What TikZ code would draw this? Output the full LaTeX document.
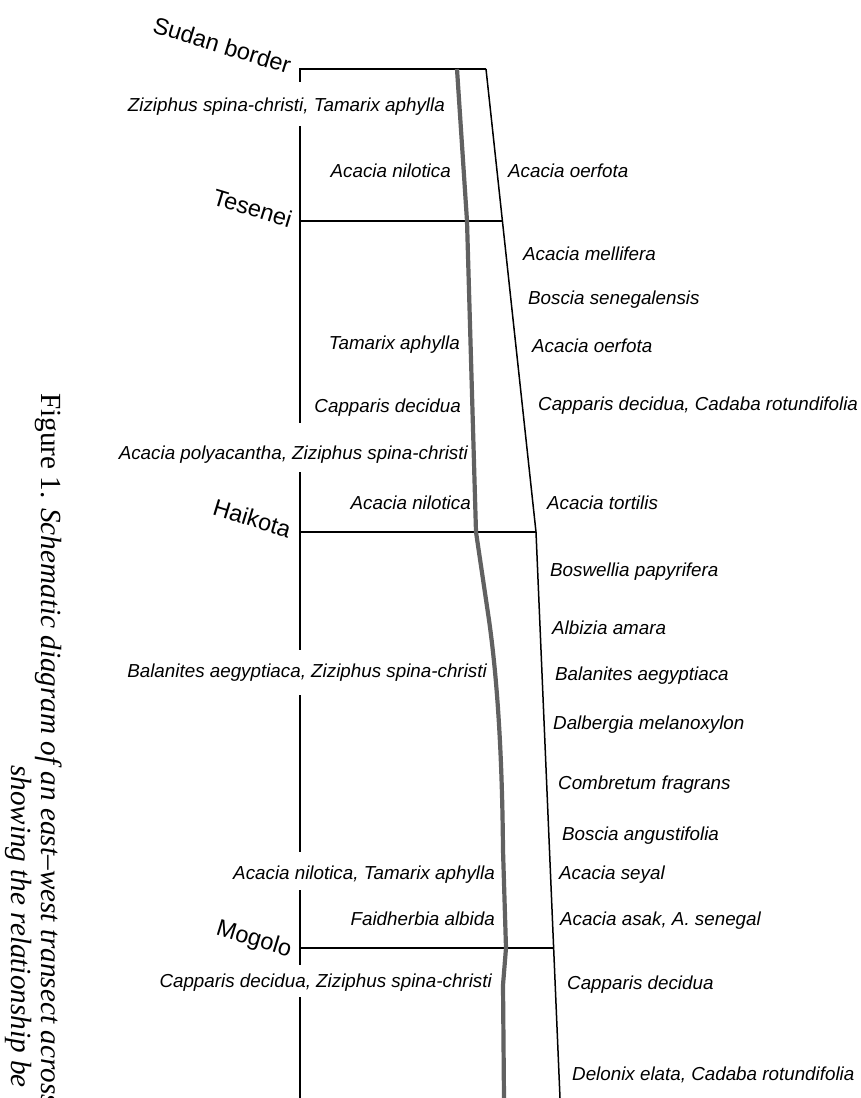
\documentclass[tikz,border=0pt]{standalone}
\usepackage{fontspec}
\setmainfont{Liberation Serif}
\setsansfont{Liberation Sans}
\usepackage{tikz}
\usetikzlibrary{calc}

\begin{document}
\begin{tikzpicture}[x=1pt, y=-1pt,
        species/.style={font=\sffamily\itshape\fontsize{18.8}{18.8}\selectfont, inner sep=0pt},
        west/.style={species, anchor=base east},
        east/.style={species, anchor=base west},
        place/.style={font=\sffamily\fontsize{23.5}{23.5}\selectfont, inner sep=0pt, rotate=-17, anchor=base east},
        caption/.style={font=\fontsize{29.2}{29.2}\selectfont, inner sep=0pt, rotate=-90, anchor=base west},
        border/.style={line width=1.5pt},
        track/.style={line width=4.2pt, color=black!62}]
    \useasboundingbox (0,0) rectangle (860,1098);
    \clip (0,0) rectangle (860,1098);
        \coordinate (nw) at (300,69);
        \coordinate (ne) at (486,69);
        \coordinate (bend) at (536,532);
        \coordinate (se) at (560,1098);
        \draw[border] (ne) -- (nw) -- (300,82);
        \draw[border] (300,126) -- (300,423);
        \draw[border] (300,472) -- (300,650);
        \draw[border] (300,695) -- (300,852);
        \draw[border] (300,890) -- (300,965);
        \draw[border] (300,997) -- (300,1098);
        \draw[border] (ne) -- (bend) -- (se);
        \draw[border] (300,221) -- (502.4,221);
        \draw[border] (300,532) -- (bend);
        \draw[border] (300,948) -- (553.6,948);
        \draw[track] (457,69) -- (467,221) -- (476,532) -- (489,620)
            .. controls (496,670) and (502,740) .. (503,850) -- (506,948) -- (503,985) -- (504,1098);
        \node[place] (sudan) at (288,74) {Sudan border};
        \node[place] (tesenei) at (289,228) {Tesenei};
        \node[place] (haikota) at (288,538) {Haikota};
        \node[place] (mogolo) at (289,957) {Mogolo};
        \node[west] (w1) at (445,111) {Ziziphus spina-christi, Tamarix aphylla};
        \node[west] (w2) at (451,177) {Acacia nilotica};
        \node[west] (w3) at (460,349) {Tamarix aphylla};
        \node[west] (w4) at (461,412) {Capparis decidua};
        \node[west] (w5) at (468,459) {Acacia polyacantha, Ziziphus spina-christi};
        \node[west] (w6) at (471,509) {Acacia nilotica};
        \node[west] (w7) at (487,677) {Balanites aegyptiaca, Ziziphus spina-christi};
        \node[west] (w8) at (495,879) {Acacia nilotica, Tamarix aphylla};
        \node[west] (w9) at (495,925) {Faidherbia albida};
        \node[west] (w10) at (492,987) {Capparis decidua, Ziziphus spina-christi};
        \node[east] (e1) at (508,177) {Acacia oerfota};
        \node[east] (e2) at (523,260) {Acacia mellifera};
        \node[east] (e3) at (528,304) {Boscia senegalensis};
        \node[east] (e4) at (532,352) {Acacia oerfota};
        \node[east] (e5) at (538,410) {Capparis decidua, Cadaba rotundifolia};
        \node[east] (e6) at (547,509) {Acacia tortilis};
        \node[east] (e7) at (550,576) {Boswellia papyrifera};
        \node[east] (e8) at (552,634) {Albizia amara};
        \node[east] (e9) at (555,680) {Balanites aegyptiaca};
        \node[east] (e10) at (553,729) {Dalbergia melanoxylon};
        \node[east] (e11) at (558,789) {Combretum fragrans};
        \node[east] (e12) at (562,840) {Boscia angustifolia};
        \node[east] (e13) at (559,879) {Acacia seyal};
        \node[east] (e14) at (560,925) {Acacia asak, A. senegal};
        \node[east] (e15) at (567,989) {Capparis decidua};
        \node[east] (e16) at (572,1080) {Delonix elata, Cadaba rotundifolia};
        \node[caption] (cap1) at (41,393) {Figure 1. \textit{Schematic diagram of an east--west transect across}};
        \node[caption] (cap2) at (11,765) {\textit{showing the relationship be}};
    \end{tikzpicture}
\end{document}
